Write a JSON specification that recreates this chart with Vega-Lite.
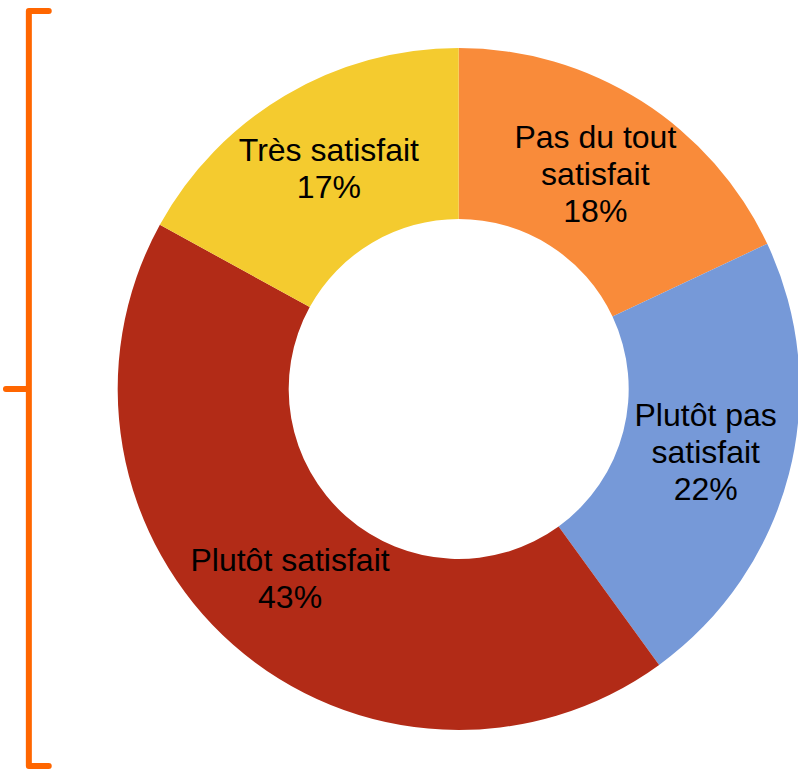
{
  "$schema": "https://vega.github.io/schema/vega-lite/v6.json",
  "width": 798,
  "height": 769,
  "autosize": {"type": "fit", "contains": "padding"},
  "padding": 0,
  "background": "white",
  "view": {"stroke": null},
  "datasets": {
    "slices": [
      {"ord": 1, "cat": "Pas du tout satisfait", "label3": "Pas du tout\nsatisfait\n18%", "label2": "", "pct": 18},
      {"ord": 2, "cat": "Plutôt pas satisfait", "label3": "Plutôt pas\nsatisfait\n22%", "label2": "", "pct": 22},
      {"ord": 3, "cat": "Plutôt satisfait", "label3": "", "label2": "Plutôt satisfait\n43%", "pct": 43},
      {"ord": 4, "cat": "Très satisfait", "label3": "", "label2": "Très satisfait\n17%", "pct": 17}
    ],
    "bracket": [
      {"i": 1, "bx": 49, "by": 11},
      {"i": 2, "bx": 29, "by": 11},
      {"i": 3, "bx": 29, "by": 389},
      {"i": 4, "bx": 6, "by": 389},
      {"i": 5, "bx": 29, "by": 389},
      {"i": 6, "bx": 29, "by": 766},
      {"i": 7, "bx": 49, "by": 766}
    ]
  },
  "layer": [
    {
      "data": {"name": "slices"},
      "mark": {"type": "arc", "radius": 341, "innerRadius": 170, "stroke": null},
      "encoding": {
        "x": {"datum": 461, "type": "quantitative"},
        "y": {"datum": 389, "type": "quantitative"},
        "theta": {"field": "pct", "type": "quantitative", "stack": true},
        "order": {"field": "ord", "type": "quantitative"},
        "color": {
          "field": "cat",
          "type": "nominal",
          "scale": {
            "domain": ["Pas du tout satisfait", "Plutôt pas satisfait", "Plutôt satisfait", "Très satisfait"],
            "range": ["#F98B3A", "#7699D8", "#B22B17", "#F4CB2F"]
          },
          "legend": null
        }
      }
    },
    {
      "data": {"name": "slices"},
      "mark": {
        "type": "text",
        "radius": 255,
        "lineBreak": "\n",
        "lineHeight": 37,
        "font": "Liberation Sans",
        "fontSize": 32,
        "color": "#000000",
        "align": "center",
        "baseline": "middle",
        "dy": -36
      },
      "encoding": {
        "x": {"datum": 461, "type": "quantitative"},
        "y": {"datum": 389, "type": "quantitative"},
        "theta": {"field": "pct", "type": "quantitative", "stack": true},
        "order": {"field": "ord", "type": "quantitative"},
        "text": {"field": "label3", "type": "nominal"}
      }
    },
    {
      "data": {"name": "slices"},
      "mark": {
        "type": "text",
        "radius": 255,
        "lineBreak": "\n",
        "lineHeight": 37,
        "font": "Liberation Sans",
        "fontSize": 32,
        "color": "#000000",
        "align": "center",
        "baseline": "middle",
        "dy": -19
      },
      "encoding": {
        "x": {"datum": 461, "type": "quantitative"},
        "y": {"datum": 389, "type": "quantitative"},
        "theta": {"field": "pct", "type": "quantitative", "stack": true},
        "order": {"field": "ord", "type": "quantitative"},
        "text": {"field": "label2", "type": "nominal"}
      }
    },
    {
      "data": {"name": "bracket"},
      "mark": {"type": "line", "color": "#FF6600", "strokeWidth": 6, "strokeCap": "round", "strokeJoin": "round"},
      "encoding": {
        "x": {"field": "bx", "type": "quantitative"},
        "y": {"field": "by", "type": "quantitative"},
        "order": {"field": "i", "type": "quantitative"}
      }
    }
  ],
  "encoding": {
    "x": {"type": "quantitative", "scale": {"domain": [0, 798], "nice": false, "zero": false}, "axis": null},
    "y": {"type": "quantitative", "scale": {"domain": [0, 769], "nice": false, "zero": false, "reverse": true}, "axis": null}
  }
}
